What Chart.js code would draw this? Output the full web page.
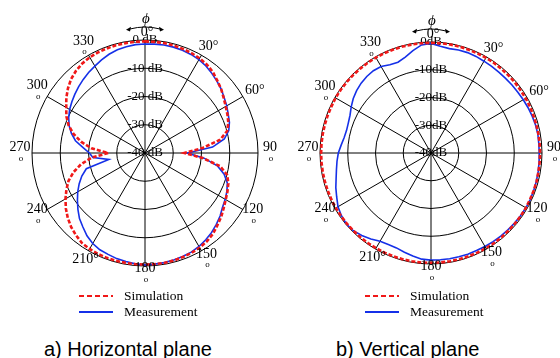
<!DOCTYPE html>
<html>
<head>
<meta charset="utf-8">
<script src="https://cdn.jsdelivr.net/npm/chart.js@4.4.1/dist/chart.umd.min.js"></script>
<style>
  html, body { margin: 0; padding: 0; background: #fff; }
  body { width: 560px; height: 358px; position: relative; overflow: hidden; }
  .panel { position: absolute; top: 0; width: 280px; height: 320px; }
  .caption { position: absolute; top: 339px; line-height: 20px; font-family: "Liberation Sans", Arial, sans-serif; font-size: 20px; color: #000; white-space: nowrap; }
</style>
</head>
<body>
<div class="panel" style="left:0"><canvas id="hPlane" width="280" height="320"></canvas></div>
<div class="panel" style="left:280px"><canvas id="vPlane" width="280" height="320"></canvas></div>
<div class="caption" style="left:44px">a) Horizontal plane</div>
<div class="caption" style="left:336px">b) Vertical plane</div>
<script>
// azimuth sampling, degrees (5 degree steps, 0 at top, clockwise)
const angles = Array.from({ length: 72 }, (_, i) => i * 5);

// labels printed around the rim, every 30 degrees
const rimLabels = ['0°', '30°', '60°', '90', '120', '150', '180', '210°', '240', '270', '300', '330'];

// radial ticks (dB)
const dbTicks = [-40, -30, -20, -10, 0];

// horizontal plane, simulated gain (dB)
const hSim = [
  -0.5, -0.5, -0.5, -0.6, -0.8, -1.0, -1.3, -1.8, -2.6, -3.8, -4.8, -6.0,
  -7.0, -7.8, -8.6, -9.9, -13.0, -19.5, -26.0, -19.5, -13.0, -9.9, -8.6, -7.8,
  -7.0, -6.0, -4.8, -3.8, -2.6, -1.8, -1.3, -1.0, -0.8, -0.6, -0.5, -0.5,
  -0.5, -0.5, -0.5, -0.5, -0.5, -0.6, -0.8, -1.1, -2.0, -3.0, -4.3, -5.8,
  -7.5, -9.3, -11.2, -13.8, -17.0, -21.0, -27.0, -21.0, -17.0, -13.8, -11.2, -9.3,
  -7.8, -6.0, -4.4, -3.0, -2.0, -1.3, -0.9, -0.7, -0.6, -0.5, -0.5, -0.5
];

// horizontal plane, measured gain (dB)
const hMeas = [
  -1.4, -1.3, -1.2, -1.2, -1.3, -1.5, -1.8, -2.4, -3.2, -4.0, -4.8, -5.8,
  -6.6, -7.5, -8.2, -9.3, -11.5, -16.0, -25.0, -19.0, -14.0, -11.0, -9.0, -8.0,
  -7.2, -6.5, -5.3, -4.3, -3.3, -2.5, -1.8, -1.3, -1.0, -0.8, -0.6, -0.5,
  -0.4, -0.6, -1.0, -1.3, -1.8, -2.2, -3.0, -4.2, -5.8, -7.2, -9.0, -10.8,
  -12.5, -14.3, -16.2, -18.5, -27.0, -21.5, -20.3, -18.0, -15.0, -13.0, -11.4, -10.2,
  -9.2, -8.4, -7.6, -6.8, -6.0, -5.2, -4.5, -3.6, -2.8, -2.2, -1.8, -1.5
];

// vertical plane, simulated gain (dB)
const vSim = [
  -0.3, -0.3, -0.3, -0.3, -0.4, -0.4, -0.4, -0.4, -0.5, -0.5, -0.5, -0.6,
  -0.6, -0.6, -0.7, -0.7, -0.7, -0.7, -0.7, -0.7, -0.7, -0.6, -0.6, -0.6,
  -0.5, -0.5, -0.5, -0.5, -0.4, -0.4, -0.4, -0.4, -0.4, -0.4, -0.4, -0.4,
  -0.4, -0.4, -0.4, -0.4, -0.4, -0.4, -0.4, -0.4, -0.4, -0.4, -0.4, -0.4,
  -0.4, -0.4, -0.4, -0.4, -0.4, -0.4, -0.4, -0.4, -0.4, -0.4, -0.4, -0.4,
  -0.3, -0.3, -0.3, -0.3, -0.3, -0.3, -0.3, -0.3, -0.3, -0.3, -0.3, -0.3
];

// vertical plane, measured gain (dB)
const vMeas = [
  -0.5, -1.4, -1.8, -1.6, -1.5, -1.6, -1.8, -1.9, -2.0, -2.0, -1.9, -1.8,
  -1.6, -1.4, -1.2, -1.0, -0.9, -1.0, -1.0, -0.9, -0.8, -0.7, -0.6, -0.5,
  -0.5, -0.6, -0.7, -0.8, -0.9, -1.0, -1.1, -1.2, -1.2, -1.3, -1.3, -1.4,
  -1.4, -1.6, -2.3, -3.0, -3.6, -3.6, -3.3, -2.2, -1.2, -0.4, -0.2, -0.6,
  -1.3, -2.5, -3.5, -4.6, -5.4, -6.0, -6.6, -7.5, -8.2, -8.5, -8.3, -7.8,
  -6.8, -5.8, -5.0, -4.4, -4.0, -3.8, -4.0, -4.9, -5.2, -4.2, -2.5, -0.9
];

const SERIF = '"Liberation Serif", "Times New Roman", "DejaVu Serif", serif';
const RED = '#f01818';
const BLUE = '#1530e8';

// rim labels, phi sweep marker and legend, placed from the radial scale
const polarDecor = {
  id: 'polarDecor',
  afterDraw(chart) {
    const s = chart.scales.r;
    const ctx = chart.ctx;
    const R = s.drawingArea, cx = s.xCenter, cy = s.yCenter;
    ctx.save();
    ctx.fillStyle = '#000';
    ctx.strokeStyle = '#000';
    ctx.textAlign = 'center';
    ctx.textBaseline = 'middle';

    rimLabels.forEach((txt, k) => {
      const idx = angles.indexOf(k * 30);
      const a = k * 30 * Math.PI / 180;
      const p = s.getPointPosition(idx, R + 8 + 4 * Math.abs(Math.sin(a)));
      ctx.font = '14px ' + SERIF;
      if (txt.endsWith('°')) {
        ctx.fillText(txt, p.x + 2, p.y);
      } else {
        ctx.fillText(txt, p.x, p.y - 5.5);
        ctx.font = '9px ' + SERIF;
        ctx.fillText('o', p.x + 1, p.y + 5.5);
      }
    });

    // phi with a curved double-headed arrow above the 0° mark
    ctx.font = 'italic 15px ' + SERIF;
    ctx.fillText('ϕ', cx + 1, cy - R - 21);
    const ay = cy - R - 12;
    ctx.lineWidth = 1;
    ctx.beginPath();
    ctx.moveTo(cx - 15, ay + 1);
    ctx.quadraticCurveTo(cx, ay - 3, cx + 15, ay + 1);
    ctx.stroke();
    const head = (x, y, dir) => {
      ctx.beginPath();
      ctx.moveTo(x + dir * 3, y + 0.8);
      ctx.lineTo(x - dir * 2, y - 2.2);
      ctx.lineTo(x - dir * 1, y + 2.6);
      ctx.closePath();
      ctx.fill();
    };
    head(cx - 16, ay + 1, -1);
    head(cx + 16, ay + 1, 1);

    // legend
    chart.data.datasets.forEach((ds, k) => {
      const y = cy + 143 + 16 * k;
      ctx.strokeStyle = ds.borderColor;
      ctx.lineWidth = 1.8;
      ctx.setLineDash(ds.borderDash ? [5, 3] : []);
      ctx.beginPath();
      ctx.moveTo(cx - 66, y);
      ctx.lineTo(cx - 32, y);
      ctx.stroke();
      ctx.setLineDash([]);
      ctx.fillStyle = '#000';
      ctx.textAlign = 'left';
      ctx.font = '13.5px ' + SERIF;
      ctx.fillText(ds.label, cx - 21, y);
    });
    ctx.restore();
  }
};

function makePolar(id, sim, meas, unitSep, pad) {
  return new Chart(document.getElementById(id), {
    type: 'radar',
    data: {
      labels: angles,
      datasets: [
        { label: 'Simulation', data: sim, borderColor: RED, borderWidth: 2.6, borderDash: [4, 2],
          pointRadius: 0, fill: false, tension: 0 },
        { label: 'Measurement', data: meas, borderColor: BLUE, borderWidth: 1.6,
          pointRadius: 0, fill: false, tension: 0 }
      ]
    },
    options: {
      responsive: false,
      animation: false,
      events: [],
      layout: { padding: pad },
      plugins: { legend: { display: false }, tooltip: { enabled: false } },
      scales: {
        r: {
          min: dbTicks[0],
          max: dbTicks[dbTicks.length - 1],
          startAngle: 0,
          grid: { circular: true, color: '#000', lineWidth: 1 },
          angleLines: {
            color: '#000',
            lineWidth: (c) => (angles[c.index] % 30 === 0 ? 1 : 0)
          },
          pointLabels: { display: false },
          ticks: {
            stepSize: 10,
            color: '#000',
            showLabelBackdrop: false,
            font: { family: SERIF, size: 13 },
            callback: (v) => v + unitSep + 'dB'
          }
        }
      }
    },
    plugins: [polarDecor]
  });
}

makePolar('hPlane', hSim, hMeas, ' ', { left: 24, right: 13, top: 32, bottom: 45 });
makePolar('vPlane', vSim, vMeas, '', { left: 32, right: 9, top: 34, bottom: 47 });
</script>
</body>
</html>
